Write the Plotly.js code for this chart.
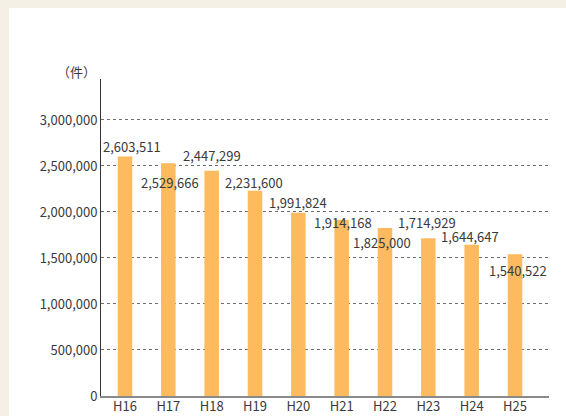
<!DOCTYPE html>
<html>
<head>
<meta charset="utf-8">
<script src="https://cdn.plot.ly/plotly-3.0.1.min.js"></script>
<style>
  html, body { margin: 0; padding: 0; background: #f4f0e6; }
  #panel { position: absolute; left: 9px; top: 8px; width: 557px; height: 408px; background: #ffffff; }
  #chart { position: absolute; left: 0; top: 0; width: 566px; height: 416px; }
</style>
</head>
<body>
<div id="panel"></div>
<div id="chart"></div>
<script>
// Data
const categories = ["H16", "H17", "H18", "H19", "H20", "H21", "H22", "H23", "H24", "H25"];
const counts = [2603511, 2529666, 2447299, 2231600, 1991824, 1914168, 1825000, 1714929, 1644647, 1540522];
const yTickValues = [0, 500000, 1000000, 1500000, 2000000, 2500000, 3000000];
const unitLabel = "（件）";

// Label offsets (pixels) to mimic the reference placement
const labelDx = [7, 2, 0, -1, 0, 1, -3, -1, -2, 3];
const labelDy = [10, -19, 15, 8, 10, -3, -14, 16, 8, -16];

const font = "'Noto Sans CJK JP', 'Noto Sans', sans-serif";
const fmt = v => v.toLocaleString("en-US");

const annotations = categories.map((c, i) => ({
  x: c, y: counts[i], xref: "x", yref: "y",
  text: fmt(counts[i]), showarrow: false,
  xanchor: "center", yanchor: "middle",
  xshift: labelDx[i], yshift: labelDy[i],
  font: { family: font, size: 13, color: "#3a3a3a" }
}));
annotations.push({
  x: 0, y: 1, xref: "paper", yref: "paper",
  text: unitLabel, showarrow: false,
  xanchor: "right", yanchor: "bottom", xshift: -3, yshift: -4,
  font: { family: font, size: 13, color: "#3a3a3a" }
});

const trace = {
  type: "bar",
  x: categories,
  y: counts,
  marker: { color: "#fdba5e", line: { width: 0 } },
  width: 0.335,
  hoverinfo: "skip"
};

const layout = {
  width: 566, height: 416,
  margin: { l: 101, r: 17, t: 79, b: 20, pad: 0 },
  paper_bgcolor: "rgba(0,0,0,0)",
  plot_bgcolor: "rgba(0,0,0,0)",
  showlegend: false,
  font: { family: font, size: 13, color: "#3a3a3a" },
  xaxis: {
    type: "category",
    showgrid: false,
    showline: true, linecolor: "#8a8a8a", linewidth: 2,
    ticks: "", zeroline: false,
    ticklabelstandoff: -3,
    tickfont: { family: font, size: 13, color: "#3a3a3a" },
    fixedrange: true
  },
  yaxis: {
    range: [0, 3445000],
    tickvals: yTickValues,
    ticktext: yTickValues.map(fmt),
    showgrid: true, gridcolor: "#6e6e6e", gridwidth: 1, griddash: "3px,3px",
    showline: true, linecolor: "#333333", linewidth: 1,
    zeroline: false, ticks: "",
    tickfont: { family: font, size: 13, color: "#3a3a3a" },
    fixedrange: true
  },
  annotations: annotations
};

Plotly.newPlot("chart", [trace], layout, { staticPlot: true, displayModeBar: false });
</script>
</body>
</html>
